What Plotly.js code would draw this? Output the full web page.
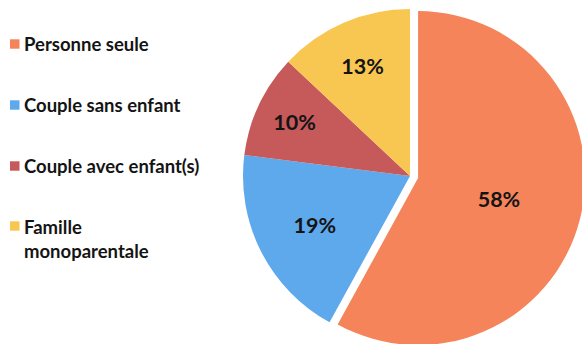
<!DOCTYPE html>
<html>
<head>
<meta charset="utf-8">
<script src="https://cdn.plot.ly/plotly-3.0.1.min.js"></script>
<style>
html,body{margin:0;padding:0;overflow:hidden;background:#fff;width:582px;height:344px;}
#chart{width:600px;height:360px;}
</style>
</head>
<body>
<div id="chart"></div>
<script>
const labels = ["Personne seule", "Couple sans enfant", "Couple avec enfant(s)", "Famille<br>monoparentale"];
const values = [58, 19, 10, 13];
const colors = ["#F5845A", "#5EA8EC", "#C6595A", "#F8C752"];
const pulls = [0.05, 0, 0, 0];

const W = 600, H = 360;
const legendY = [44, 105, 166, 226];
const legendTextY = [44, 105, 166, 238.5];

const shapes = labels.map((l, i) => ({
  type: "rect", xref: "paper", yref: "paper",
  x0: 10 / W, x1: 19.5 / W,
  y0: 1 - (legendY[i] + 4.7) / H, y1: 1 - (legendY[i] - 4.7) / H,
  fillcolor: colors[i], line: {width: 0}
}));
const annotations = labels.map((l, i) => ({
  xref: "paper", yref: "paper", x: 21.5 / W, y: 1 - legendTextY[i] / H,
  xanchor: "left", yanchor: "middle", align: "left", showarrow: false,
  text: l, font: {family: "Lato, sans-serif", size: 18.5, color: "#141414", weight: "bold"}
}));

const trace = {
  type: "pie",
  labels: labels, values: values,
  marker: {colors: colors, line: {width: 0}},
  pull: pulls,
  sort: false, direction: "clockwise", rotation: 0,
  textinfo: "percent", textposition: "inside", insidetextorientation: "horizontal",
  textfont: {family: "Lato, sans-serif", size: 21.5, color: "#141414", weight: "bold"},
  domain: {x: [234.65 / W, 585.35 / W], y: [8.65 / H, 359.35 / H]},
  showlegend: false, hoverinfo: "label+percent"
};

Plotly.newPlot("chart", [trace], {
  width: W, height: H,
  margin: {l: 0, r: 0, t: 0, b: 0},
  paper_bgcolor: "#fff", plot_bgcolor: "#fff",
  shapes: shapes, annotations: annotations
}, {displayModeBar: false, staticPlot: true});
</script>
</body>
</html>
